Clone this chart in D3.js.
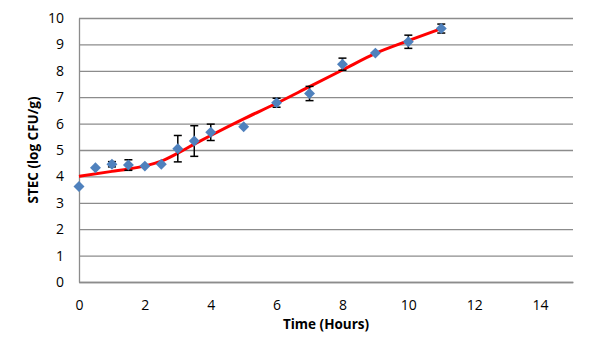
<!DOCTYPE html>
<html>
<head>
<meta charset="utf-8">
<script src="https://cdn.jsdelivr.net/npm/d3@7"></script>
<style>
  body { margin:0; background:#fff; }
  svg text { font-family:"Open Sans","Liberation Sans",sans-serif; fill:#000; }
</style>
</head>
<body>
<svg id="chart" width="600" height="359"></svg>
<script>
// measured points
const hours = [0, 0.5, 1, 1.5, 2, 2.5, 3, 3.5, 4, 5, 6, 7, 8, 9, 10, 11];
const stec  = [3.62, 4.33, 4.46, 4.43, 4.39, 4.46, 5.05, 5.34, 5.67, 5.88, 6.79, 7.14, 8.25, 8.67, 9.1, 9.6];
const errs  = [0, 0, 0.1, 0.2, 0, 0, 0.5, 0.58, 0.31, 0, 0.17, 0.27, 0.23, 0, 0.25, 0.17];

// fitted curve
const fitX = [0, 1, 1.5, 2, 2.5, 3, 3.5, 4, 5, 6, 7, 8, 9, 10, 11];
const fitY = [4.0, 4.19, 4.28, 4.4, 4.58, 4.88, 5.22, 5.55, 6.18, 6.77, 7.4, 8.03, 8.66, 9.14, 9.6];

const xTicks = [0, 2, 4, 6, 8, 10, 12, 14];
const yTicks = [0, 1, 2, 3, 4, 5, 6, 7, 8, 9, 10];

const margin = {top:18, right:27, bottom:77, left:79};
const W = 600, H = 359;
const innerW = W - margin.left - margin.right;
const innerH = H - margin.top - margin.bottom;

const svg = d3.select("#chart");
const g = svg.append("g").attr("transform", `translate(${margin.left},${margin.top})`);

const x = d3.scaleLinear().domain([0, 15]).range([0, innerW]);
const y = d3.scaleLinear().domain([0, 10]).range([innerH, 0]);

// gridlines
g.append("g")
  .call(d3.axisLeft(y).tickValues(yTicks).tickSize(-innerW).tickFormat(""))
  .call(a => a.select(".domain").remove())
  .call(a => a.selectAll("line").attr("stroke", "#8c8c8c").attr("stroke-width", 1.3));

// y axis
g.append("g")
  .call(d3.axisLeft(y).tickValues(yTicks).tickSize(0).tickPadding(15))
  .call(a => a.select(".domain").attr("stroke", "#8c8c8c").attr("stroke-width", 1.3))
  .call(a => a.selectAll("text").attr("font-size", 14));

// x axis
g.append("g")
  .attr("transform", `translate(0,${innerH})`)
  .call(d3.axisBottom(x).tickValues(xTicks).tickSize(0).tickPadding(18))
  .call(a => a.select(".domain").attr("stroke", "#8c8c8c").attr("stroke-width", 1.3))
  .call(a => a.selectAll("text").attr("font-size", 14));

// axis titles
svg.append("text")
  .attr("x", margin.left + innerW / 2)
  .attr("y", 329)
  .attr("text-anchor", "middle")
  .attr("font-size", 13.5)
  .attr("font-weight", "bold")
  .text("Time (Hours)");

svg.append("text")
  .attr("transform", `translate(38,${margin.top + innerH / 2}) rotate(-90)`)
  .attr("text-anchor", "middle")
  .attr("font-size", 13.5)
  .attr("font-weight", "bold")
  .text("STEC (log CFU/g)");

// fitted curve
const fit = fitX.map((d, i) => ({x:d, y:fitY[i]}));
g.append("path")
  .datum(fit)
  .attr("fill", "none")
  .attr("stroke", "#ff0000")
  .attr("stroke-width", 3)
  .attr("d", d3.line().x(d => x(d.x)).y(d => y(d.y)).curve(d3.curveMonotoneX));

const pts = hours.map((d, i) => ({x:d, y:stec[i], e:errs[i]}));

// error bars
const eb = g.selectAll(".err")
  .data(pts.filter(d => d.e > 0))
  .join("g")
  .attr("stroke", "#000")
  .attr("stroke-width", 1.5);
eb.append("line")
  .attr("x1", d => x(d.x)).attr("x2", d => x(d.x))
  .attr("y1", d => y(d.y - d.e)).attr("y2", d => y(d.y + d.e));
eb.append("line")
  .attr("x1", d => x(d.x) - 4).attr("x2", d => x(d.x) + 4)
  .attr("y1", d => y(d.y + d.e)).attr("y2", d => y(d.y + d.e));
eb.append("line")
  .attr("x1", d => x(d.x) - 4).attr("x2", d => x(d.x) + 4)
  .attr("y1", d => y(d.y - d.e)).attr("y2", d => y(d.y - d.e));

// diamond markers
g.selectAll(".dot")
  .data(pts)
  .join("path")
  .attr("class", "dot")
  .attr("d", d3.symbol().type(d3.symbolSquare).size(60))
  .attr("transform", d => `translate(${x(d.x)},${y(d.y)}) rotate(45)`)
  .attr("fill", "#4f81bd");
</script>
</body>
</html>
